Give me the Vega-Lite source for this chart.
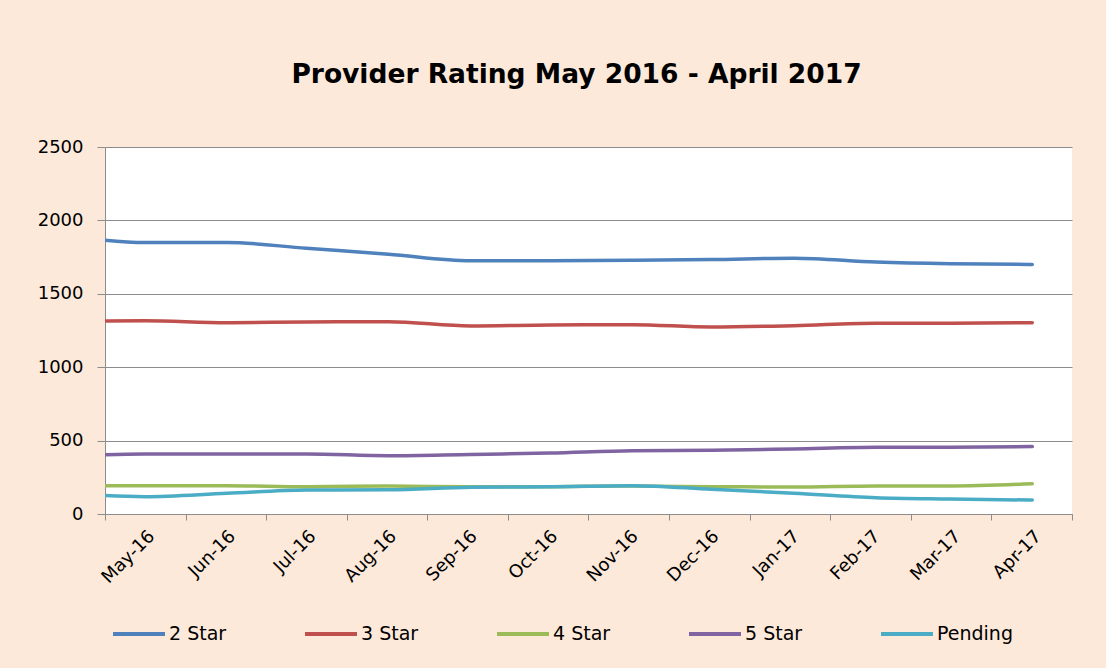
{
  "$schema": "https://vega.github.io/schema/vega-lite/v6.json",
  "width": 967,
  "height": 367,
  "autosize": {"type": "none"},
  "padding": {"left": 105, "top": 147, "right": 34, "bottom": 154},
  "background": "#FDE9D9",
  "config": {"view": {"fill": "white", "stroke": null}, "font": "DejaVu Sans"},
  "title": {"text": "Provider Rating May 2016 - April 2017", "fontSize": 26.5, "font": "DejaVu Sans", "fontWeight": "bold", "color": "#000000", "offset": 50, "dx": -12, "anchor": "middle"},
  "datasets": {
    "rows": [
      {"month": "2016-04-01", "label": "Apr-16", "series": "2 Star", "value": 1896},
      {"month": "2016-05-01", "label": "May-16", "series": "2 Star", "value": 1850},
      {"month": "2016-06-01", "label": "Jun-16", "series": "2 Star", "value": 1850},
      {"month": "2016-07-01", "label": "Jul-16", "series": "2 Star", "value": 1810},
      {"month": "2016-08-01", "label": "Aug-16", "series": "2 Star", "value": 1770},
      {"month": "2016-09-01", "label": "Sep-16", "series": "2 Star", "value": 1725},
      {"month": "2016-10-01", "label": "Oct-16", "series": "2 Star", "value": 1725},
      {"month": "2016-11-01", "label": "Nov-16", "series": "2 Star", "value": 1728},
      {"month": "2016-12-01", "label": "Dec-16", "series": "2 Star", "value": 1733},
      {"month": "2017-01-01", "label": "Jan-17", "series": "2 Star", "value": 1743},
      {"month": "2017-02-01", "label": "Feb-17", "series": "2 Star", "value": 1717},
      {"month": "2017-03-01", "label": "Mar-17", "series": "2 Star", "value": 1705},
      {"month": "2017-04-01", "label": "Apr-17", "series": "2 Star", "value": 1700},
      {"month": "2016-04-01", "label": "Apr-16", "series": "3 Star", "value": 1313},
      {"month": "2016-05-01", "label": "May-16", "series": "3 Star", "value": 1317},
      {"month": "2016-06-01", "label": "Jun-16", "series": "3 Star", "value": 1303},
      {"month": "2016-07-01", "label": "Jul-16", "series": "3 Star", "value": 1308},
      {"month": "2016-08-01", "label": "Aug-16", "series": "3 Star", "value": 1310},
      {"month": "2016-09-01", "label": "Sep-16", "series": "3 Star", "value": 1281},
      {"month": "2016-10-01", "label": "Oct-16", "series": "3 Star", "value": 1288},
      {"month": "2016-11-01", "label": "Nov-16", "series": "3 Star", "value": 1290},
      {"month": "2016-12-01", "label": "Dec-16", "series": "3 Star", "value": 1274},
      {"month": "2017-01-01", "label": "Jan-17", "series": "3 Star", "value": 1283},
      {"month": "2017-02-01", "label": "Feb-17", "series": "3 Star", "value": 1299},
      {"month": "2017-03-01", "label": "Mar-17", "series": "3 Star", "value": 1299},
      {"month": "2017-04-01", "label": "Apr-17", "series": "3 Star", "value": 1303},
      {"month": "2016-04-01", "label": "Apr-16", "series": "4 Star", "value": 193},
      {"month": "2016-05-01", "label": "May-16", "series": "4 Star", "value": 193},
      {"month": "2016-06-01", "label": "Jun-16", "series": "4 Star", "value": 193},
      {"month": "2016-07-01", "label": "Jul-16", "series": "4 Star", "value": 186},
      {"month": "2016-08-01", "label": "Aug-16", "series": "4 Star", "value": 190},
      {"month": "2016-09-01", "label": "Sep-16", "series": "4 Star", "value": 185},
      {"month": "2016-10-01", "label": "Oct-16", "series": "4 Star", "value": 186},
      {"month": "2016-11-01", "label": "Nov-16", "series": "4 Star", "value": 190},
      {"month": "2016-12-01", "label": "Dec-16", "series": "4 Star", "value": 186},
      {"month": "2017-01-01", "label": "Jan-17", "series": "4 Star", "value": 184},
      {"month": "2017-02-01", "label": "Feb-17", "series": "4 Star", "value": 191},
      {"month": "2017-03-01", "label": "Mar-17", "series": "4 Star", "value": 191},
      {"month": "2017-04-01", "label": "Apr-17", "series": "4 Star", "value": 206},
      {"month": "2016-04-01", "label": "Apr-16", "series": "5 Star", "value": 395},
      {"month": "2016-05-01", "label": "May-16", "series": "5 Star", "value": 409},
      {"month": "2016-06-01", "label": "Jun-16", "series": "5 Star", "value": 409},
      {"month": "2016-07-01", "label": "Jul-16", "series": "5 Star", "value": 409},
      {"month": "2016-08-01", "label": "Aug-16", "series": "5 Star", "value": 397},
      {"month": "2016-09-01", "label": "Sep-16", "series": "5 Star", "value": 406},
      {"month": "2016-10-01", "label": "Oct-16", "series": "5 Star", "value": 415},
      {"month": "2016-11-01", "label": "Nov-16", "series": "5 Star", "value": 431},
      {"month": "2016-12-01", "label": "Dec-16", "series": "5 Star", "value": 434},
      {"month": "2017-01-01", "label": "Jan-17", "series": "5 Star", "value": 443},
      {"month": "2017-02-01", "label": "Feb-17", "series": "5 Star", "value": 454},
      {"month": "2017-03-01", "label": "Mar-17", "series": "5 Star", "value": 454},
      {"month": "2017-04-01", "label": "Apr-17", "series": "5 Star", "value": 459},
      {"month": "2016-04-01", "label": "Apr-16", "series": "Pending", "value": 140},
      {"month": "2016-05-01", "label": "May-16", "series": "Pending", "value": 118},
      {"month": "2016-06-01", "label": "Jun-16", "series": "Pending", "value": 141},
      {"month": "2016-07-01", "label": "Jul-16", "series": "Pending", "value": 163},
      {"month": "2016-08-01", "label": "Aug-16", "series": "Pending", "value": 165},
      {"month": "2016-09-01", "label": "Sep-16", "series": "Pending", "value": 182},
      {"month": "2016-10-01", "label": "Oct-16", "series": "Pending", "value": 186},
      {"month": "2016-11-01", "label": "Nov-16", "series": "Pending", "value": 193},
      {"month": "2016-12-01", "label": "Dec-16", "series": "Pending", "value": 168},
      {"month": "2017-01-01", "label": "Jan-17", "series": "Pending", "value": 141},
      {"month": "2017-02-01", "label": "Feb-17", "series": "Pending", "value": 111},
      {"month": "2017-03-01", "label": "Mar-17", "series": "Pending", "value": 102},
      {"month": "2017-04-01", "label": "Apr-17", "series": "Pending", "value": 95}
    ]
  },
  "data": {"name": "rows"},
  "layer": [
    {
      "mark": {"type": "line", "strokeWidth": 3.5, "interpolate": "monotone", "clip": true, "strokeCap": "round", "strokeJoin": "round"},
      "encoding": {
        "x": {
          "field": "month",
          "type": "temporal",
          "scale": {
            "type": "utc",
            "domain": [
              {"year": 2016, "month": 4, "date": 16, "utc": true},
              {"year": 2017, "month": 4, "date": 16, "utc": true}
            ]
          },
          "axis": null
        },
        "y": {
          "field": "value",
          "type": "quantitative",
          "scale": {"domain": [0, 2500], "nice": false, "zero": true},
          "axis": {
            "title": null,
            "values": [0, 500, 1000, 1500, 2000, 2500],
            "format": "d",
            "grid": true,
            "gridColor": "#8C8C8C",
            "gridWidth": 1,
            "domainColor": "#8C8C8C",
            "tickColor": "#8C8C8C",
            "tickSize": 8,
            "labelPadding": 14,
            "labelFontSize": 18,
            "labelColor": "#000000",
            "labelFont": "DejaVu Sans"
          }
        },
        "color": {
          "field": "series",
          "type": "nominal",
          "scale": {
            "domain": ["2 Star", "3 Star", "4 Star", "5 Star", "Pending"],
            "range": ["#4F81BD", "#C0504D", "#9BBB59", "#8064A2", "#4BACC6"]
          },
          "legend": {
            "title": null,
            "orient": "none",
            "legendX": 6,
            "legendY": 459,
            "direction": "horizontal",
            "columns": 5,
            "gridAlign": "all",
            "columnPadding": 52,
            "symbolType": "stroke",
            "symbolSize": 2704,
            "symbolStrokeWidth": 4,
            "labelFontSize": 19,
            "labelColor": "#000000",
            "labelFont": "DejaVu Sans",
            "labelOffset": 2
          }
        }
      }
    },
    {
      "transform": [{"filter": "datum.label != 'Apr-16'"}],
      "mark": {"type": "point", "opacity": 0},
      "encoding": {
        "x": {
          "field": "label",
          "type": "nominal",
          "scale": {
            "type": "band",
            "paddingInner": 0,
            "paddingOuter": 0,
            "domain": ["May-16", "Jun-16", "Jul-16", "Aug-16", "Sep-16", "Oct-16", "Nov-16", "Dec-16", "Jan-17", "Feb-17", "Mar-17", "Apr-17"]
          },
          "axis": {
            "orient": "bottom",
            "title": null,
            "labelAngle": -45,
            "labelFontSize": 18,
            "labelColor": "#000000",
            "labelFont": "DejaVu Sans",
            "tickBand": "extent",
            "tickSize": 6,
            "tickColor": "#8C8C8C",
            "domainColor": "#8C8C8C",
            "grid": false,
            "labelPadding": 7
          }
        },
        "y": {"field": "value", "type": "quantitative"}
      }
    }
  ],
  "resolve": {"scale": {"x": "independent"}}
}
